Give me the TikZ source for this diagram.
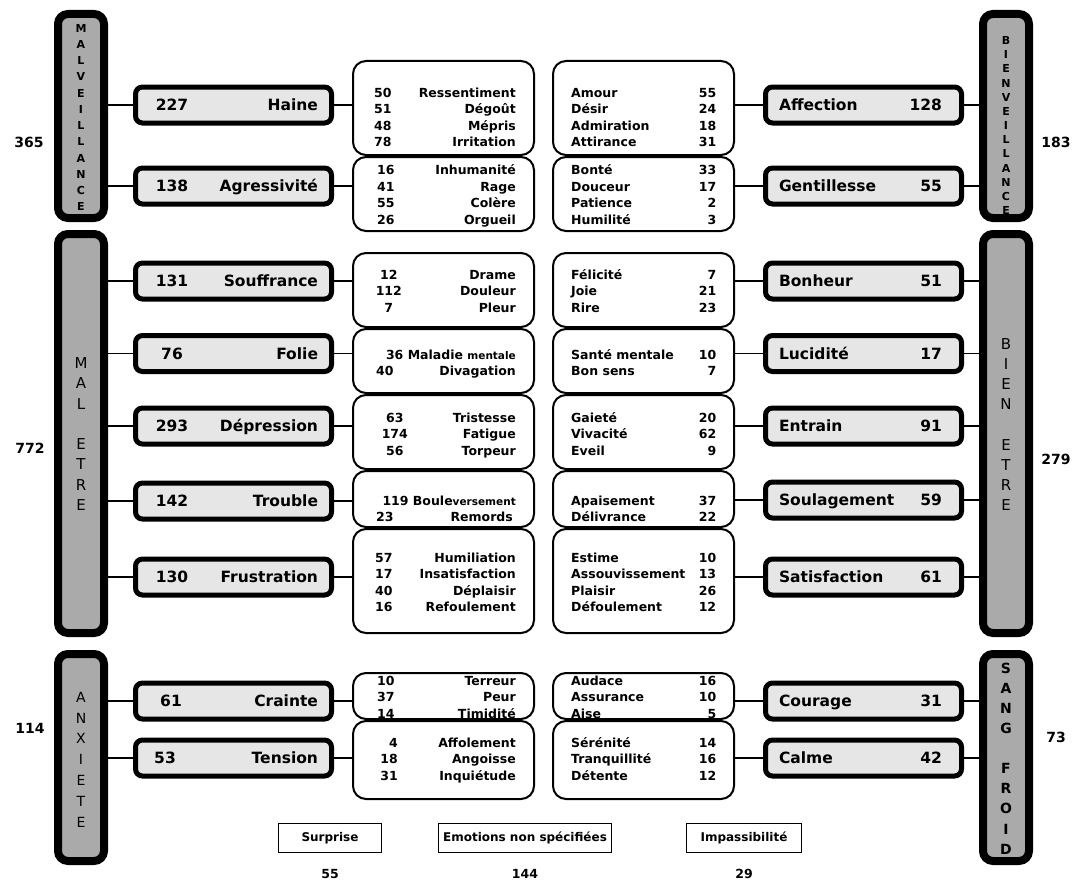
\documentclass[tikz,border=0pt]{standalone}
\usepackage{fontspec}
\setmainfont{DejaVu Sans}
\definecolor{barfill}{RGB}{170,170,170}
\definecolor{catfill}{RGB}{230,230,230}
\newcommand\LR[3][118]{\smash{\makebox[26pt][c]{#2}\makebox[#1pt][r]{#3}}\rule{0pt}{9pt}}
\newcommand\LRr[3][118]{\smash{\makebox[26pt][r]{#2}\makebox[#1pt][r]{#3}}\rule{0pt}{9pt}}
\newcommand\LW[1]{\smash{\makebox[144pt][r]{#1}}\rule{0pt}{9pt}}
\newcommand\RR[2]{\smash{\makebox[145pt][s]{#1\hfill #2}}\rule{0pt}{9pt}}
\newcommand\smallw[1]{{\fontsize{10.5}{11}\selectfont #1}}
\newcommand\Lcat[3][8]{\makebox[169pt][s]{\hspace{#1pt}\makebox[30pt]{#2}\hfill #3}}
\newcommand\Rcat[2]{\makebox[169pt][s]{#1\hfill #2\hspace{6pt}}}
\begin{document}
\begin{tikzpicture}[x=1pt,y=-1pt,
  bar/.style={draw=black, line width=8pt, fill=barfill, rounded corners=10pt, minimum width=46pt, inner sep=0pt},
  barlbl/.style={align=center, inner sep=0pt},
  cat/.style={draw=black, line width=5pt, fill=catfill, rounded corners=7pt, minimum width=196pt, minimum height=36pt, inner sep=0pt, text height=11.3pt, text depth=0pt, font=\fontsize{15.5}{18}\selectfont\bfseries},
  det/.style={draw=black, line width=2pt, fill=white, rounded corners=13pt, minimum width=181pt, inner sep=0pt},
  dtxt/.style={align=left, inner sep=0pt, font=\fontsize{12.5}{16.5}\selectfont\bfseries},
  conn/.style={draw=black, line width=1.5pt},
  plainbox/.style={draw=black, line width=1pt, minimum height=29pt, inner sep=0pt, font=\fontsize{12}{14}\selectfont\bfseries},
  total/.style={inner sep=0pt, font=\fontsize{12.5}{14}\selectfont\bfseries},
  side/.style={inner sep=0pt, font=\fontsize{14}{16}\selectfont\bfseries}]
\fill[white] (0,0) rectangle (1081,883);
\useasboundingbox (0,0) rectangle (1081,883);

% ---------- bars ----------
\node[bar, minimum height=204pt] (malv) at (81,116) {};
\node[bar, minimum height=399pt] (maletre) at (81,433.5) {};
\node[bar, minimum height=207pt] (anx) at (81,757.5) {};
\node[bar, minimum height=204pt] (bienv) at (1006,116) {};
\node[bar, minimum height=399pt] (bienetre) at (1006,433.5) {};
\node[bar, minimum height=207pt] (sangf) at (1006,757.5) {};

\node[barlbl, font=\fontsize{11}{16.27}\selectfont\bfseries] (malvtxt) at (81,117.5) {M\\A\\L\\V\\E\\I\\L\\L\\A\\N\\C\\E};
\node[barlbl, font=\fontsize{11}{14.17}\selectfont\bfseries] (bienvtxt) at (1006,125.5) {B\\I\\E\\N\\V\\E\\I\\L\\L\\A\\N\\C\\E};
\node[barlbl, font=\fontsize{15}{20.3}\selectfont] (maletretxt) at (81,434) {M\\A\\L\\ \\E\\T\\R\\E};
\node[barlbl, font=\fontsize{15}{20.1}\selectfont] (bienetretxt) at (1006,424.5) {B\\I\\E\\N\\ \\E\\T\\R\\E};
\node[barlbl, font=\fontsize{14}{20.8}\selectfont] (anxtxt) at (81,759.5) {A\\N\\X\\I\\E\\T\\E};
\node[barlbl, font=\fontsize{14}{20.1}\selectfont\bfseries] (sangftxt) at (1006,758.5) {S\\A\\N\\G\\ \\F\\R\\O\\I\\D};

% ---------- totals beside bars ----------
\node[side] (n365) at (29,142) {365};
\node[side] (n772) at (30,448) {772};
\node[side] (n114) at (30,728) {114};
\node[side] (n183) at (1056,142) {183};
\node[side] (n279) at (1056,459) {279};
\node[side] (n73) at (1056,737) {73};

% ---------- left category boxes ----------
\node[cat] (haine) at (233.5,105) {\Lcat{227}{Haine}};
\node[cat] (agress) at (233.5,186) {\Lcat{138}{Agressivité}};
\node[cat] (souff) at (233.5,281) {\Lcat{131}{Souffrance}};
\node[cat] (folie) at (233.5,353.5) {\Lcat{76}{Folie}};
\node[cat] (depr) at (233.5,426) {\Lcat{293}{Dépression}};
\node[cat] (trouble) at (233.5,501) {\Lcat{142}{Trouble}};
\node[cat] (frustr) at (233.5,577) {\Lcat{130}{Frustration}};
\node[cat] (crainte) at (233.5,701) {\Lcat[7]{61}{Crainte}};
\node[cat] (tension) at (233.5,758) {\Lcat[1]{53}{Tension}};

% ---------- right category boxes ----------
\node[cat] (affection) at (863.5,105) {\Rcat{Affection}{128}};
\node[cat] (gentil) at (863.5,186) {\Rcat{Gentillesse}{55}};
\node[cat] (bonheur) at (863.5,281) {\Rcat{Bonheur}{51}};
\node[cat] (lucid) at (863.5,353.5) {\Rcat{Lucidité}{17}};
\node[cat] (entrain) at (863.5,426) {\Rcat{Entrain}{91}};
\node[cat] (soulag) at (863.5,500) {\Rcat{Soulagement}{59}};
\node[cat] (satisf) at (863.5,577) {\Rcat{Satisfaction}{61}};
\node[cat] (courage) at (863.5,701) {\Rcat{Courage}{31}};
\node[cat] (calme) at (863.5,758) {\Rcat{Calme}{42}};

% ---------- left detail boxes ----------
\node[det, minimum height=94pt] (ld1) at (443.5,108) {};
\node[det, minimum height=74pt] (ld2) at (443.5,194) {};
\node[det, minimum height=74pt] (ld3) at (443.5,290) {};
\node[det, minimum height=64pt] (ld4) at (443.5,361) {};
\node[det, minimum height=74pt] (ld5) at (443.5,432) {};
\node[det, minimum height=56pt] (ld6) at (443.5,499) {};
\node[det, minimum height=104pt] (ld7) at (443.5,581) {};
\node[det, minimum height=46pt] (ld8) at (443.5,696) {};
\node[det, minimum height=78pt] (ld9) at (443.5,760) {};

% ---------- right detail boxes ----------
\node[det, minimum height=94pt] (rd1) at (643.5,108) {};
\node[det, minimum height=74pt] (rd2) at (643.5,194) {};
\node[det, minimum height=74pt] (rd3) at (643.5,290) {};
\node[det, minimum height=64pt] (rd4) at (643.5,361) {};
\node[det, minimum height=74pt] (rd5) at (643.5,432) {};
\node[det, minimum height=56pt] (rd6) at (643.5,499) {};
\node[det, minimum height=104pt] (rd7) at (643.5,581) {};
\node[det, minimum height=46pt] (rd8) at (643.5,696) {};
\node[det, minimum height=78pt] (rd9) at (643.5,760) {};

% ---------- left detail texts ----------
\node[dtxt, anchor=east] (lt1) at (516,117.5) {\LR[120]{50}{Ressentiment}\\\LR[120]{51}{Dégoût}\\\LR[120]{48}{Mépris}\\\LR[120]{78}{Irritation}};
\node[dtxt, anchor=east] (lt2) at (516,195) {\LR[117]{16}{Inhumanité}\\\LR[117]{41}{Rage}\\\LR[117]{55}{Colère}\\\LR[117]{26}{Orgueil}};
\node[dtxt, anchor=east] (lt3) at (516,291) {\LR[114]{12}{Drame}\\\LR[114]{112}{Douleur}\\\LR[114]{7}{Pleur}};
\node[dtxt, anchor=east] (lt4) at (516,363) {\LW{36 Maladie \smallw{mentale}}\\\LR[118]{40}{Divagation}};
\node[dtxt, anchor=east] (lt5) at (516,434) {\LR[108]{63}{Tristesse}\\\LR[108]{174}{Fatigue}\\\LR[108]{56}{Torpeur}};
\node[dtxt, anchor=east] (lt6) at (516,509) {\LW{119 Boule\smallw{versement}}\\\LR[115]{23}{Remords}};
\node[dtxt, anchor=east] (lt7) at (516,582.5) {\LR[119]{57}{Humiliation}\\\LR[119]{17}{Insatisfaction}\\\LR[119]{40}{Déplaisir}\\\LR[119]{16}{Refoulement}};
\node[dtxt, anchor=east] (lt8) at (516,697) {\LR[117]{10}{Terreur}\\\LR[117]{37}{Peur}\\\LR[117]{14}{Timidité}};
\node[dtxt, anchor=east] (lt9) at (516,759) {\LRr[118]{4}{Affolement}\\\LRr[118]{18}{Angoisse}\\\LRr[118]{31}{Inquiétude}};

% ---------- right detail texts ----------
\node[dtxt, anchor=west] (rt1) at (571,117.5) {\RR{Amour}{55}\\\RR{Désir}{24}\\\RR{Admiration}{18}\\\RR{Attirance}{31}};
\node[dtxt, anchor=west] (rt2) at (571,195) {\RR{Bonté}{33}\\\RR{Douceur}{17}\\\RR{Patience}{2}\\\RR{Humilité}{3}};
\node[dtxt, anchor=west] (rt3) at (571,291) {\RR{Félicité}{7}\\\RR{Joie}{21}\\\RR{Rire}{23}};
\node[dtxt, anchor=west] (rt4) at (571,363) {\RR{Santé mentale}{10}\\\RR{Bon sens}{7}};
\node[dtxt, anchor=west] (rt5) at (571,434) {\RR{Gaieté}{20}\\\RR{Vivacité}{62}\\\RR{Eveil}{9}};
\node[dtxt, anchor=west] (rt6) at (571,509) {\RR{Apaisement}{37}\\\RR{Délivrance}{22}};
\node[dtxt, anchor=west] (rt7) at (571,582.5) {\RR{Estime}{10}\\\RR{Assouvissement}{13}\\\RR{Plaisir}{26}\\\RR{Défoulement}{12}};
\node[dtxt, anchor=west] (rt8) at (571,697) {\RR{Audace}{16}\\\RR{Assurance}{10}\\\RR{Aise}{5}};
\node[dtxt, anchor=west] (rt9) at (571,759) {\RR{Sérénité}{14}\\\RR{Tranquillité}{16}\\\RR{Détente}{12}};

% ---------- connectors left ----------
\foreach \c/\b/\d in {haine/malv/ld1, agress/malv/ld2, souff/maletre/ld3, folie/maletre/ld4, depr/maletre/ld5, trouble/maletre/ld6, frustr/maletre/ld7, crainte/anx/ld8, tension/anx/ld9}{
  \draw[conn] (\b.east |- \c) -- (\c.west);
  \draw[conn] (\c.east) -- (\d.west |- \c);
}
% ---------- connectors right ----------
\foreach \c/\b/\d in {affection/bienv/rd1, gentil/bienv/rd2, bonheur/bienetre/rd3, lucid/bienetre/rd4, entrain/bienetre/rd5, soulag/bienetre/rd6, satisf/bienetre/rd7, courage/sangf/rd8, calme/sangf/rd9}{
  \draw[conn] (\d.east |- \c) -- (\c.west);
  \draw[conn] (\c.east) -- (\b.west |- \c);
}

% ---------- bottom boxes ----------
\node[plainbox, minimum width=103pt] (surprise) at (330,838) {Surprise};
\node[plainbox, minimum width=173pt] (nonspec) at (525,838) {Emotions non spécifiées};
\node[plainbox, minimum width=115pt] (impass) at (744,838) {Impassibilité};
\node[total] (n55) at (330,874) {55};
\node[total] (n144) at (525,874) {144};
\node[total] (n29) at (744,874) {29};
\end{tikzpicture}
\end{document}
